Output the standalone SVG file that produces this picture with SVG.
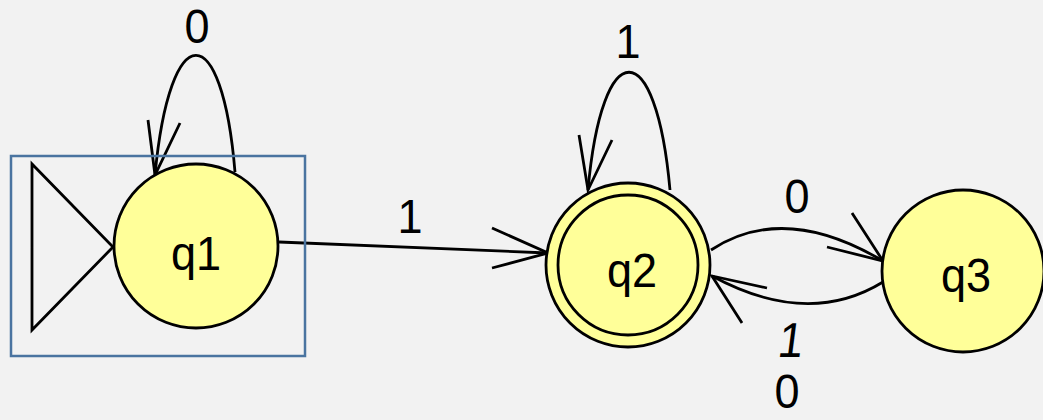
<svg xmlns="http://www.w3.org/2000/svg" width="1043" height="420" viewBox="0 0 1043 420">
<style>
.st{fill:#ffff99;stroke:#000;stroke-width:2.8}
.ln{fill:none;stroke:#000;stroke-width:2.8;stroke-linejoin:miter}
.t{font-family:"Liberation Sans",Arial,sans-serif;font-size:49px;fill:#000;text-anchor:middle}
</style>
<rect width="1043" height="420" fill="#f2f2f2"/>
<g id="connectors">
<g id="e-q1-q1">
<path class="ln" d="M235,172 C222,16 170,16 155,175"/>
<polyline class="ln" points="148,120 155,175 180,123"/>
<text class="t" transform="translate(197,43) scale(0.92,1)">0</text>
</g>
<g id="e-q2-q2">
<path class="ln" d="M670,190 C656,33 602,33 588,190"/>
<polyline class="ln" points="579,135 588,190 612,140"/>
<text class="t" transform="translate(628,58) scale(0.92,1)">1</text>
</g>
<g id="e-q1-q2">
<path class="ln" d="M279,242 L548,253"/>
<polyline class="ln" points="492,228 548,253 492,268"/>
<text class="t" transform="translate(410,233) scale(0.92,1)">1</text>
</g>
<g id="e-q2-q3">
<path class="ln" d="M711,250 Q784,202 883,261"/>
<polyline class="ln" points="852,213 883,261 827,247"/>
<text class="t" transform="translate(797,213) scale(0.92,1)">0</text>
</g>
<g id="e-q3-q2">
<path class="ln" d="M883,282 Q808,328 712,276"/>
<polyline class="ln" points="767,288 712,276 742,323"/>
<text class="t" transform="translate(789,357) scale(0.92,1) skewX(-8)">1</text>
<text class="t" transform="translate(787,408) scale(0.92,1)">0</text>
</g>
</g>
<g id="start-frame">
<rect x="11" y="156" width="294" height="200" fill="none" stroke="#4a74a0" stroke-width="2.5"/>
</g>
<g id="q1">
<polygon points="32,164 32,330 113,247" fill="none" stroke="#000" stroke-width="2.8"/>
<circle class="st" cx="196" cy="246" r="82"/>
<text class="t" transform="translate(196,270) scale(0.92,1)">q1</text>
</g>
<g id="q2">
<circle class="st" cx="628" cy="265" r="82"/>
<circle class="st" cx="628" cy="265" r="70"/>
<text class="t" transform="translate(632,287) scale(0.92,1)">q2</text>
</g>
<g id="q3">
<circle class="st" cx="963" cy="271" r="81"/>
<text class="t" transform="translate(966,292) scale(0.92,1)">q3</text>
</g>
</svg>
